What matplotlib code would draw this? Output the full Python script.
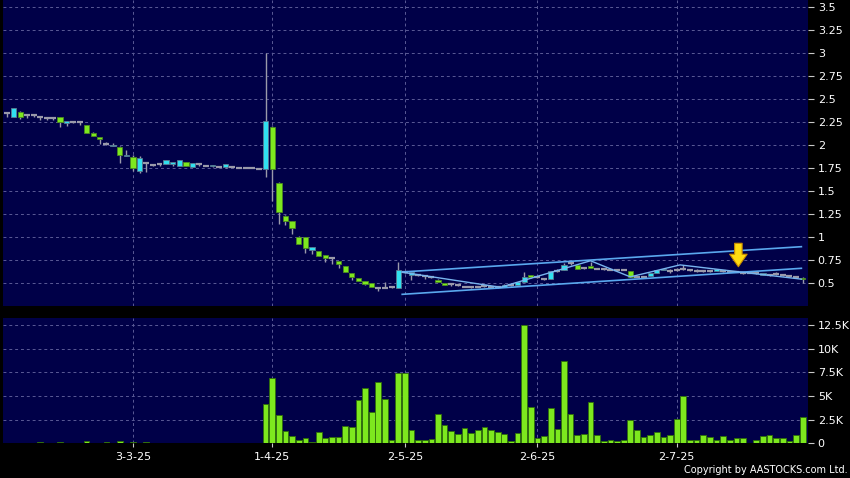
import matplotlib
matplotlib.use("Agg")
import matplotlib.pyplot as plt
import numpy as np
from matplotlib.ticker import FuncFormatter

# one entry per trading session, index 0 = first session shown (early Feb 2025)
opens = [2.35, 2.31, 2.36, 2.33, 2.33, 2.31, 2.30, 2.30, 2.31, 2.24,
         2.25, 2.25, 2.22, 2.13, 2.09, 2.01, 1.99, 1.98, 1.88, 1.87,
         1.72, 1.81, 1.79, 1.80, 1.80, 1.80, 1.78, 1.82, 1.76, 1.80,
         1.77, 1.78, 1.76, 1.76, 1.76, 1.75, 1.75, 1.75, 1.74, 1.74,
         2.20, 1.59, 1.23, 1.18, 1.00, 1.00, 0.86, 0.85, 0.81, 0.77,
         0.74, 0.69, 0.61, 0.555, 0.52, 0.50, 0.45, 0.45, 0.46, 0.45,
         0.62, 0.59, 0.59, 0.58, 0.565, 0.54, 0.50, 0.49, 0.48, 0.465,
         0.46, 0.46, 0.47, 0.46, 0.46, 0.46, 0.48, 0.48, 0.51, 0.59,
         0.57, 0.55, 0.55, 0.63, 0.64, 0.72, 0.70, 0.67, 0.69, 0.65,
         0.65, 0.645, 0.645, 0.645, 0.63, 0.57, 0.57, 0.58, 0.61, 0.64,
         0.63, 0.64, 0.65, 0.64, 0.63, 0.63, 0.63, 0.63, 0.63, 0.625,
         0.625, 0.61, 0.61, 0.61, 0.59, 0.59, 0.60, 0.585, 0.58, 0.57,
         0.56]
highs = [2.36, 2.41, 2.37, 2.34, 2.34, 2.32, 2.31, 2.31, 2.31, 2.26,
         2.26, 2.25, 2.22, 2.15, 2.09, 2.04, 2.03, 1.99, 1.95, 1.89,
         1.88, 1.82, 1.80, 1.81, 1.84, 1.82, 1.84, 1.82, 1.81, 1.80,
         1.78, 1.79, 1.77, 1.80, 1.76, 1.75, 1.75, 1.75, 1.75, 3.00,
         2.21, 1.60, 1.24, 1.18, 1.01, 1.00, 0.89, 0.85, 0.81, 0.78,
         0.74, 0.69, 0.61, 0.56, 0.52, 0.50, 0.45, 0.51, 0.47, 0.73,
         0.63, 0.62, 0.60, 0.58, 0.57, 0.55, 0.50, 0.49, 0.48, 0.47,
         0.46, 0.47, 0.47, 0.46, 0.46, 0.49, 0.48, 0.51, 0.62, 0.59,
         0.57, 0.56, 0.63, 0.65, 0.72, 0.73, 0.70, 0.68, 0.73, 0.66,
         0.65, 0.65, 0.65, 0.65, 0.63, 0.58, 0.57, 0.61, 0.64, 0.66,
         0.65, 0.67, 0.70, 0.65, 0.66, 0.64, 0.63, 0.65, 0.64, 0.63,
         0.63, 0.62, 0.61, 0.62, 0.61, 0.60, 0.62, 0.59, 0.59, 0.58,
         0.57]
lows = [2.31, 2.31, 2.29, 2.30, 2.31, 2.28, 2.27, 2.27, 2.20, 2.21,
        2.24, 2.22, 2.13, 2.10, 2.01, 2.00, 1.99, 1.81, 1.88, 1.72,
        1.70, 1.71, 1.77, 1.77, 1.80, 1.78, 1.78, 1.78, 1.76, 1.78,
        1.77, 1.76, 1.76, 1.75, 1.76, 1.75, 1.75, 1.75, 1.74, 1.66,
        1.39, 1.15, 1.13, 1.04, 0.93, 0.83, 0.82, 0.80, 0.73, 0.71,
        0.67, 0.62, 0.54, 0.52, 0.48, 0.46, 0.42, 0.45, 0.45, 0.45,
        0.61, 0.54, 0.58, 0.55, 0.56, 0.51, 0.48, 0.47, 0.47, 0.46,
        0.45, 0.46, 0.46, 0.46, 0.45, 0.46, 0.47, 0.48, 0.51, 0.56,
        0.56, 0.54, 0.55, 0.62, 0.64, 0.70, 0.65, 0.66, 0.67, 0.65,
        0.64, 0.64, 0.64, 0.64, 0.57, 0.57, 0.56, 0.58, 0.61, 0.64,
        0.61, 0.63, 0.64, 0.63, 0.62, 0.62, 0.62, 0.63, 0.62, 0.62,
        0.62, 0.60, 0.61, 0.60, 0.59, 0.58, 0.59, 0.58, 0.57, 0.56,
        0.50]
closes = [2.35, 2.41, 2.31, 2.33, 2.33, 2.31, 2.30, 2.30, 2.25, 2.26,
          2.25, 2.25, 2.13, 2.10, 2.07, 2.01, 2.00, 1.90, 1.90, 1.75,
          1.86, 1.81, 1.79, 1.80, 1.84, 1.82, 1.84, 1.78, 1.81, 1.80,
          1.77, 1.79, 1.76, 1.80, 1.76, 1.75, 1.75, 1.75, 1.74, 2.26,
          1.74, 1.27, 1.18, 1.10, 0.93, 0.88, 0.89, 0.80, 0.78, 0.77,
          0.71, 0.62, 0.57, 0.52, 0.49, 0.46, 0.45, 0.45, 0.46, 0.64,
          0.62, 0.62, 0.59, 0.58, 0.565, 0.51, 0.48, 0.49, 0.48, 0.465,
          0.46, 0.46, 0.47, 0.46, 0.46, 0.48, 0.48, 0.51, 0.57, 0.565,
          0.57, 0.55, 0.63, 0.63, 0.70, 0.72, 0.65, 0.67, 0.67, 0.65,
          0.65, 0.645, 0.645, 0.645, 0.57, 0.57, 0.57, 0.61, 0.64, 0.66,
          0.63, 0.64, 0.65, 0.64, 0.63, 0.63, 0.63, 0.65, 0.63, 0.625,
          0.625, 0.61, 0.61, 0.61, 0.61, 0.59, 0.60, 0.585, 0.58, 0.57,
          0.545]
# volume in thousands of shares
volumes_k = [0.05, 0.08, 0.06, 0.04, 0.05, 0.14, 0.03, 0.04, 0.14, 0.05,
             0.10, 0.08, 0.25, 0.05, 0.04, 0.14, 0.06, 0.28, 0.05, 0.18,
             0.06, 0.12, 0.05, 0.03, 0.08, 0.04, 0.03, 0.02, 0.04, 0.02,
             0.02, 0.03, 0.02, 0.08, 0.01, 0.01, 0.01, 0.01, 0.02, 4.16,
             6.87, 2.99, 1.30, 0.74, 0.32, 0.63, 0.14, 1.23, 0.56, 0.67,
             0.70, 1.83, 1.69, 4.58, 5.81, 3.31, 6.48, 4.72, 0.32, 7.47,
             7.47, 1.41, 0.32, 0.35, 0.46, 3.10, 1.97, 1.27, 0.95, 1.66,
             1.09, 1.41, 1.73, 1.41, 1.23, 0.95, 0.25, 1.06, 12.5, 3.80,
             0.60, 0.77, 3.77, 1.55, 8.70, 3.06, 0.88, 1.02, 4.40, 0.88,
             0.25, 0.35, 0.25, 0.42, 2.47, 1.37, 0.67, 0.88, 1.20, 0.67,
             0.85, 2.54, 4.97, 0.42, 0.35, 0.88, 0.67, 0.42, 0.74, 0.42,
             0.63, 0.56, 0.07, 0.35, 0.77, 0.88, 0.56, 0.56, 0.25, 0.88,
             2.78]

tick_pos = [19, 40, 60, 80, 101]
tick_labels = ["3-3-25", "1-4-25", "2-5-25", "2-6-25", "2-7-25"]
price_ticks = [0.5, 0.75, 1, 1.25, 1.5, 1.75, 2, 2.25, 2.5, 2.75, 3, 3.25, 3.5]
vol_ticks = [0, 2.5, 5, 7.5, 10, 12.5]

# drawn-on trend channel, zigzag and marker arrow
chan_x = [59.6, 119.8]
chan_upper = [0.623, 0.898]
chan_lower = [0.38, 0.663]
zz_x = [59.6, 74.4, 88, 94, 101.5, 119.8]
zz_y = [0.62, 0.457, 0.745, 0.57, 0.70, 0.545]
arrow_x = 110.3
arrow_top = 0.935
arrow_tip = 0.68

BG = "#000048"
UP = "#30e0f0"
DOWN = "#7de81e"
FLAT = "#9a9aaa"
GRID = "#5a5a96"
CHAN = "#5aa8ee"

o = np.array(opens)
h = np.array(highs)
l = np.array(lows)
c = np.array(closes)
x = np.arange(len(c))
up = c > o
down = c < o
flat = c == o

fig = plt.figure(figsize=(8.5, 4.78), dpi=100, facecolor="black")
ax_p = fig.add_axes([0.0041, 0.3598, 0.9465, 0.6402])
ax_v = fig.add_axes([0.0041, 0.0722, 0.9465, 0.2619])

for ax in (ax_p, ax_v):
    ax.set_facecolor(BG)
    for s in ax.spines.values():
        s.set_visible(False)
    ax.set_axisbelow(True)
    ax.grid(True, color=GRID, linestyle=(0, (3, 3)), lw=0.7)
    ax.yaxis.tick_right()
    ax.tick_params(axis="y", colors="#c8c8c8", labelcolor="white",
                   labelsize=8, length=4, pad=3)
    ax.set_xlim(-0.53, 120.8)
    ax.set_xticks(tick_pos)

# price panel: candles
ax_p.vlines(x, l, h, color=FLAT, lw=1, zorder=2)
ax_p.bar(x[up], (c - o)[up], bottom=o[up], width=0.8, color=UP,
         edgecolor="#5a7a90", lw=0.6, zorder=3)
ax_p.bar(x[down], (o - c)[down], bottom=c[down], width=0.8, color=DOWN,
         edgecolor="#4a8a20", lw=0.6, zorder=3)
ax_p.hlines(c[flat], x[flat] - 0.45, x[flat] + 0.45, color=FLAT, lw=1.6, zorder=3)

ax_p.plot(chan_x, chan_upper, color=CHAN, lw=1.2, zorder=4)
ax_p.plot(chan_x, chan_lower, color=CHAN, lw=1.2, zorder=4)
ax_p.plot(zz_x, zz_y, color="#78b4ee", lw=1.0, zorder=4)
ax_p.annotate("", xy=(arrow_x, arrow_tip), xytext=(arrow_x, arrow_top),
              arrowprops=dict(arrowstyle="simple,head_length=0.75,head_width=1.05,tail_width=0.45",
                              fc="#ffdc10", ec="#c88a00", lw=0.8, shrinkA=0, shrinkB=0,
                              mutation_scale=12), zorder=5)

ax_p.set_ylim(0.253, 3.58)
ax_p.set_yticks(price_ticks)
ax_p.yaxis.set_major_formatter(FuncFormatter(lambda v, _: f"{v:g}"))
ax_p.tick_params(axis="x", length=0, labelbottom=False)

# volume panel
ax_v.bar(x, volumes_k, width=0.86, color=DOWN, edgecolor="#2f6e0a", lw=0.6, zorder=3)
ax_v.set_ylim(0, 13.2)
ax_v.set_yticks(vol_ticks)
ax_v.yaxis.set_major_formatter(FuncFormatter(lambda v, _: "0" if v == 0 else f"{v:g}K"))
ax_v.set_xticklabels(tick_labels)
ax_v.tick_params(axis="x", colors="#c8c8c8", labelcolor="white", labelsize=8,
                 length=3, pad=3)

fig.text(0.997, 0.006, "Copyright by AASTOCKS.com Ltd.", color="white",
         fontsize=7, ha="right", va="bottom")

fig.savefig("out.png", dpi=100, facecolor="black")
